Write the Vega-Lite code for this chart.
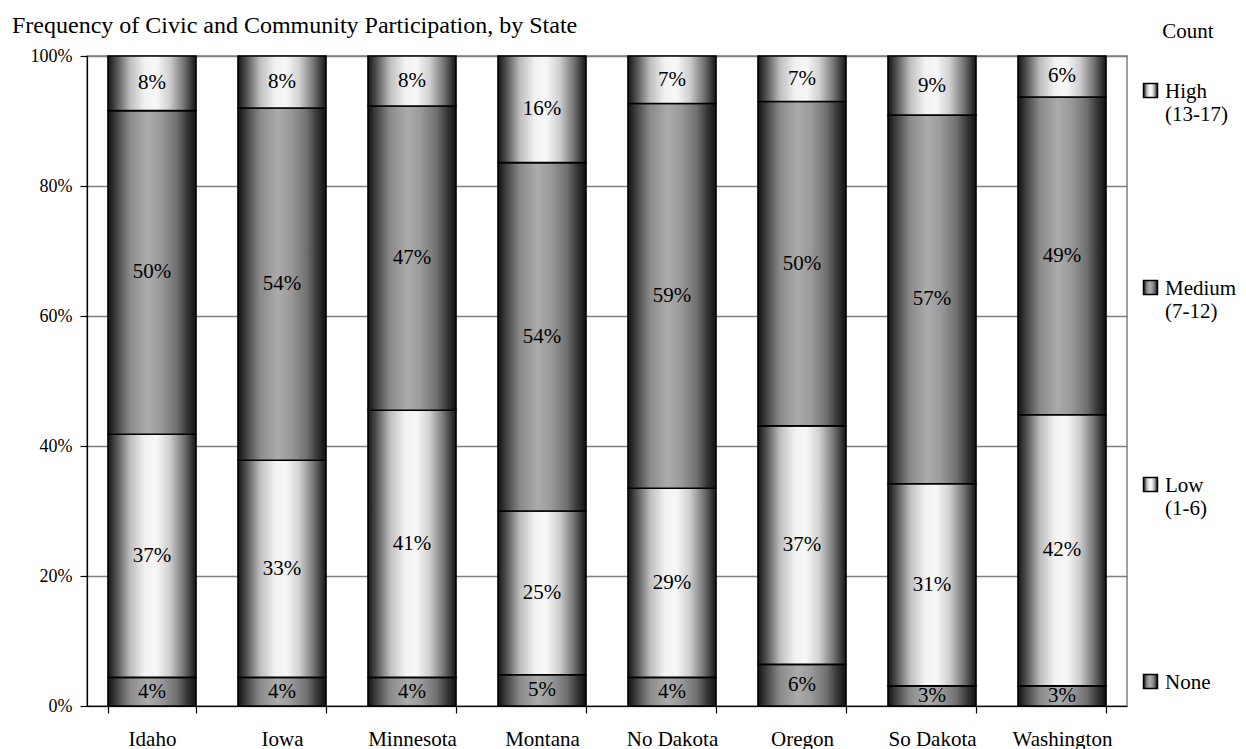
{
  "$schema": "https://vega.github.io/schema/vega-lite/v6.json",
  "width": 1040,
  "height": 650,
  "autosize": {"type": "none"},
  "padding": {"left": 87, "top": 56, "right": 119, "bottom": 43},
  "background": "white",
  "title": {
    "text": "Frequency of Civic and Community Participation, by State",
    "anchor": "start",
    "frame": "group",
    "dx": -75,
    "offset": -36,
    "baseline": "alphabetic",
    "font": "Liberation Serif",
    "fontSize": 24,
    "fontWeight": "normal",
    "color": "black"
  },
  "data": {
    "values": [
      {"state": "Idaho", "level": "None", "pct": 0.044},
      {"state": "Idaho", "level": "Low (1-6)", "pct": 0.374},
      {"state": "Idaho", "level": "Medium (7-12)", "pct": 0.498},
      {"state": "Idaho", "level": "High (13-17)", "pct": 0.084},
      {"state": "Iowa", "level": "None", "pct": 0.044},
      {"state": "Iowa", "level": "Low (1-6)", "pct": 0.334},
      {"state": "Iowa", "level": "Medium (7-12)", "pct": 0.542},
      {"state": "Iowa", "level": "High (13-17)", "pct": 0.080},
      {"state": "Minnesota", "level": "None", "pct": 0.044},
      {"state": "Minnesota", "level": "Low (1-6)", "pct": 0.411},
      {"state": "Minnesota", "level": "Medium (7-12)", "pct": 0.468},
      {"state": "Minnesota", "level": "High (13-17)", "pct": 0.077},
      {"state": "Montana", "level": "None", "pct": 0.048},
      {"state": "Montana", "level": "Low (1-6)", "pct": 0.252},
      {"state": "Montana", "level": "Medium (7-12)", "pct": 0.536},
      {"state": "Montana", "level": "High (13-17)", "pct": 0.164},
      {"state": "No Dakota", "level": "None", "pct": 0.044},
      {"state": "No Dakota", "level": "Low (1-6)", "pct": 0.291},
      {"state": "No Dakota", "level": "Medium (7-12)", "pct": 0.592},
      {"state": "No Dakota", "level": "High (13-17)", "pct": 0.073},
      {"state": "Oregon", "level": "None", "pct": 0.064},
      {"state": "Oregon", "level": "Low (1-6)", "pct": 0.367},
      {"state": "Oregon", "level": "Medium (7-12)", "pct": 0.499},
      {"state": "Oregon", "level": "High (13-17)", "pct": 0.070},
      {"state": "So Dakota", "level": "None", "pct": 0.031},
      {"state": "So Dakota", "level": "Low (1-6)", "pct": 0.311},
      {"state": "So Dakota", "level": "Medium (7-12)", "pct": 0.567},
      {"state": "So Dakota", "level": "High (13-17)", "pct": 0.091},
      {"state": "Washington", "level": "None", "pct": 0.031},
      {"state": "Washington", "level": "Low (1-6)", "pct": 0.417},
      {"state": "Washington", "level": "Medium (7-12)", "pct": 0.489},
      {"state": "Washington", "level": "High (13-17)", "pct": 0.063}
    ]
  },
  "transform": [
    {"stack": "pct", "groupby": ["state"], "offset": "normalize", "as": ["y0", "y1"]}
  ],
  "encoding": {
    "x": {
      "field": "state",
      "type": "nominal",
      "sort": null,
      "scale": {"paddingInner": 0.323, "paddingOuter": 0.1615},
      "axis": {
        "title": null,
        "labelAngle": 0,
        "tickBand": "extent",
        "tickSize": 7,
        "tickColor": "black",
        "tickWidth": 1.2,
        "domainColor": "black",
        "domainWidth": 1.2,
        "labelFont": "Liberation Serif",
        "labelFontSize": 21,
        "labelColor": "black",
        "labelPadding": 15
      }
    },
    "y": {
      "field": "y0",
      "type": "quantitative",
      "scale": {"domain": [0, 1]},
      "axis": {
        "title": null,
        "values": [0, 0.2, 0.4, 0.6, 0.8, 1],
        "format": ".0%",
        "grid": true,
        "gridColor": "#808080",
        "gridWidth": 1.5,
        "tickSize": 7,
        "tickColor": "black",
        "tickWidth": 1.2,
        "domainColor": "black",
        "domainWidth": 1.2,
        "labelFont": "Liberation Serif",
        "labelFontSize": 18,
        "labelColor": "black",
        "labelPadding": 8
      }
    },
    "y2": {"field": "y1"}
  },
  "layer": [
    {
      "mark": {"type": "bar", "stroke": "black", "strokeWidth": 1.6},
      "encoding": {
        "fill": {
          "field": "level",
          "type": "nominal",
          "scale": {
            "domain": ["High (13-17)", "Medium (7-12)", "Low (1-6)", "None"],
            "range": [
              {"expr": "{gradient: 'linear', x1: 0, y1: 0, x2: 1, y2: 0, stops: [{offset: 0, color: '#151515'}, {offset: 0.1, color: '#555555'}, {offset: 0.25, color: '#bdbdbd'}, {offset: 0.42, color: '#f2f2f2'}, {offset: 0.55, color: '#f7f7f7'}, {offset: 0.7, color: '#cfcfcf'}, {offset: 0.85, color: '#7a7a7a'}, {offset: 1, color: '#151515'}]}"},
              {"expr": "{gradient: 'linear', x1: 0, y1: 0, x2: 1, y2: 0, stops: [{offset: 0, color: '#111111'}, {offset: 0.1, color: '#444444'}, {offset: 0.25, color: '#8a8a8a'}, {offset: 0.45, color: '#ababab'}, {offset: 0.6, color: '#9a9a9a'}, {offset: 0.78, color: '#707070'}, {offset: 0.9, color: '#363636'}, {offset: 1, color: '#111111'}]}"},
              {"expr": "{gradient: 'linear', x1: 0, y1: 0, x2: 1, y2: 0, stops: [{offset: 0, color: '#151515'}, {offset: 0.1, color: '#555555'}, {offset: 0.25, color: '#bdbdbd'}, {offset: 0.42, color: '#f2f2f2'}, {offset: 0.55, color: '#f7f7f7'}, {offset: 0.7, color: '#cfcfcf'}, {offset: 0.85, color: '#7a7a7a'}, {offset: 1, color: '#151515'}]}"},
              {"expr": "{gradient: 'linear', x1: 0, y1: 0, x2: 1, y2: 0, stops: [{offset: 0, color: '#111111'}, {offset: 0.1, color: '#444444'}, {offset: 0.25, color: '#8a8a8a'}, {offset: 0.45, color: '#ababab'}, {offset: 0.6, color: '#9a9a9a'}, {offset: 0.78, color: '#707070'}, {offset: 0.9, color: '#363636'}, {offset: 1, color: '#111111'}]}"}
            ]
          },
          "legend": {
            "orient": "none",
            "legendX": 1053,
            "legendY": -35,
            "padding": 0,
            "title": "Count",
            "titleFont": "Liberation Serif",
            "titleFontSize": 21,
            "titleFontWeight": "normal",
            "titleColor": "black",
            "titleAnchor": "middle",
            "titlePadding": 38,
            "labelFont": "Liberation Serif",
            "labelFontSize": 21,
            "labelColor": "black",
            "labelExpr": "split(datum.label, ' ')",
            "labelBaseline": "alphabetic",
            "labelOffset": 4,
            "labelLimit": 200,
            "symbolType": "square",
            "symbolSize": 196,
            "symbolStrokeColor": "black",
            "symbolStrokeWidth": 1.5,
            "rowPadding": 152,
            "encoding": {
              "labels": {"dy": {"value": 7}}
            }
          }
        }
      }
    },
    {
      "transform": [{"fold": ["y0", "y1"], "as": ["edge", "pos"]}],
      "mark": {"type": "text", "font": "Liberation Serif", "fontSize": 21, "baseline": "middle", "color": "black"},
      "encoding": {
        "y": {"aggregate": "mean", "field": "pos", "type": "quantitative"},
        "y2": null,
        "detail": {"field": "level", "type": "nominal"},
        "text": {"aggregate": "mean", "field": "pct", "type": "quantitative", "format": ".0%"}
      }
    }
  ],
  "config": {
    "font": "Liberation Serif",
    "view": {"stroke": "#808080", "strokeWidth": 1.5}
  }
}
